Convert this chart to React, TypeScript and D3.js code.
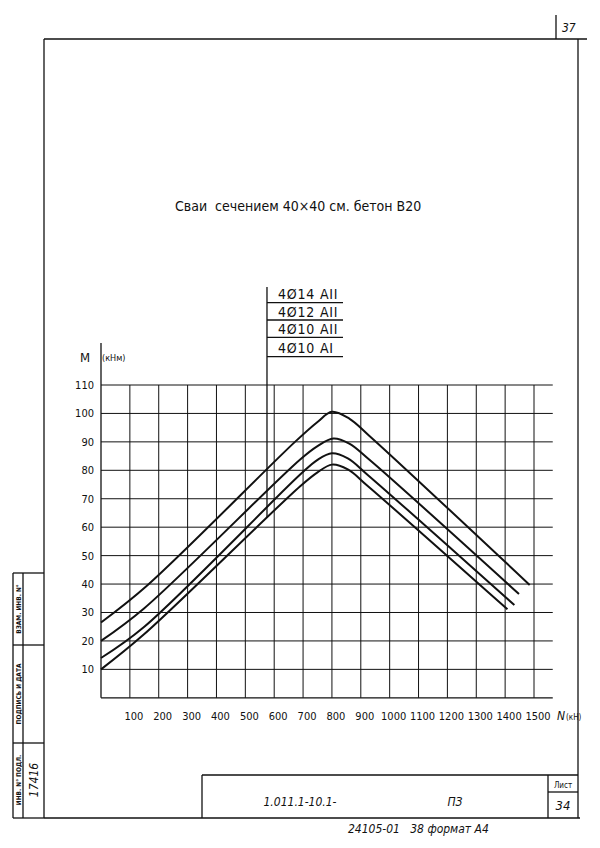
import React from "react";
import * as d3 from "d3";

// ---- data ----
const xTicks = [100, 200, 300, 400, 500, 600, 700, 800, 900, 1000, 1100, 1200, 1300, 1400, 1500];
const yTicks = [10, 20, 30, 40, 50, 60, 70, 80, 90, 100, 110];
const seriesNames = ["4Ø14 АII", "4Ø12 АII", "4Ø10 АII", "4Ø10 АI"];

// key points (N, kN -> M, kNm)
const nTop = [0, 160, 672, 750, 800, 860, 930, 1485];
const mTop = [26.5, 39.5, 90, 97, 100.6, 98.2, 92.1, 39.7];

const n12 = [0, 150, 690, 750, 805, 860, 930, 1448];
const m12 = [20, 31.5, 83.8, 88.5, 91.2, 89.4, 83.7, 36.5];

const n10 = [0, 150, 690, 750, 800, 855, 925, 1432];
const m10 = [14, 25, 78.5, 83.7, 86, 84.2, 78.3, 32.6];

const n10a = [0, 150, 690, 750, 800, 855, 925, 1408];
const m10a = [10, 22.4, 74.4, 79.3, 82, 80.3, 74.4, 31.1];

const gridMaxN = 1565;
const legendLeaderN = 575; // where the legend leader meets the lowest curve

export default function App() {
  const x = d3.scaleLinear().domain([0, 1500]).range([101, 534]);
  const y = d3.scaleLinear().domain([0, 110]).range([697.8, 385]);

  const series = [
    nTop.map((n, i) => [n, mTop[i]]),
    n12.map((n, i) => [n, m12[i]]),
    n10.map((n, i) => [n, m10[i]]),
    n10a.map((n, i) => [n, m10a[i]]),
  ] as [number, number][][];

  const line = d3
    .line<[number, number]>()
    .x((d) => x(d[0]))
    .y((d) => y(d[1]))
    .curve(d3.curveCatmullRom.alpha(0.5));

  const low = series[3];
  const interp = d3.scaleLinear().domain(low.map((d) => d[0])).range(low.map((d) => d[1]));
  const leaderX = x(legendLeaderN);
  const leaderBottom = y(interp(legendLeaderN));

  const hand = "'DejaVu Sans Condensed', 'DejaVu Sans', sans-serif";
  const ink = "#111";

  const legendTop = 287;
  const legendRows = [302.7, 320, 337.3, 356.7];

  return (
    <svg
      width={600}
      height={848}
      style={{ position: "absolute", left: 0, top: 0, background: "#fff" }}
      fontFamily={hand}
    >
      <rect x={0} y={0} width={600} height={848} fill="#fff" />
      {/* sheet frame */}
      <g stroke={ink} strokeWidth={1.3} fill="none">
        <line x1={44} y1={39} x2={587} y2={39} />
        <line x1={44} y1={39} x2={44} y2={818} />
        <line x1={578} y1={39} x2={578} y2={818} />
        <line x1={44} y1={818} x2={580} y2={818} />
        <line x1={556} y1={15} x2={556} y2={39} />
        {/* bottom stamp */}
        <line x1={202} y1={775} x2={578} y2={775} />
        <line x1={202} y1={775} x2={202} y2={818} />
        <line x1={548} y1={775} x2={548} y2={818} />
        <line x1={548} y1={792} x2={578} y2={792} />
        {/* left stamp */}
        <line x1={13} y1={573} x2={44} y2={573} />
        <line x1={13} y1={645} x2={44} y2={645} />
        <line x1={13} y1={743} x2={44} y2={743} />
        <line x1={13} y1={573} x2={13} y2={818} />
        <line x1={23} y1={573} x2={23} y2={818} />
        <line x1={13} y1={818} x2={44} y2={818} />
      </g>
      <text x={562} y={32} fontSize={12} fontStyle="italic" fill={ink}>37</text>

      {/* left stamp texts */}
      <g fontSize={6.5} fill={ink} fontWeight="bold" textAnchor="middle">
        <text transform="translate(20.5,609) rotate(-90)">ВЗАМ. ИНВ. N°</text>
        <text transform="translate(20.5,694) rotate(-90)">ПОДПИСЬ И ДАТА</text>
        <text transform="translate(20.5,780) rotate(-90)">ИНВ. N° ПОДЛ.</text>
      </g>
      <text transform="translate(38,780) rotate(-90)" fontSize={12} fontStyle="italic" textAnchor="middle" fill={ink}>17416</text>

      {/* bottom stamp texts */}
      <text x={300} y={806} fontSize={12} fontStyle="italic" textAnchor="middle" fill={ink}>1.011.1-10.1-</text>
      <text x={455} y={806} fontSize={12} fontStyle="italic" textAnchor="middle" fill={ink}>ПЗ</text>
      <text x={563} y={788} fontSize={8} textAnchor="middle" fill={ink}>Лист</text>
      <text x={563} y={810} fontSize={13} fontStyle="italic" textAnchor="middle" fill={ink}>34</text>
      <text x={348} y={833} fontSize={12} fontStyle="italic" fill={ink} style={{ whiteSpace: "pre" }}>24105-01   38 формат А4</text>

      {/* title */}
      <text x={175} y={211} fontSize={14} fill={ink} style={{ whiteSpace: "pre" }}>Сваи  сечением 40×40 см. бетон В20</text>

      {/* grid */}
      <g stroke={ink} strokeWidth={1}>
        {yTicks.map((t) => (
          <line key={"h" + t} x1={x(0)} x2={x(gridMaxN)} y1={y(t)} y2={y(t)} />
        ))}
        {xTicks.map((t) => (
          <line key={"v" + t} x1={x(t)} x2={x(t)} y1={y(110)} y2={y(0)} />
        ))}
        <line x1={x(0)} x2={x(gridMaxN)} y1={y(0)} y2={y(0)} strokeWidth={1.3} />
        <line x1={x(0)} x2={x(0)} y1={343} y2={y(0)} strokeWidth={1.3} />
      </g>

      {/* axis labels */}
      <g fontSize={11} fill={ink}>
        {yTicks.map((t) => (
          <text key={"yl" + t} x={x(0) - 7} y={y(t) + 4} textAnchor="end">{t}</text>
        ))}
        {xTicks.map((t) => (
          <text key={"xl" + t} x={x(t) + 4} y={720} textAnchor="middle">{t}</text>
        ))}
        <text x={557} y={720} fontSize={12} fontStyle="italic">N</text>
        <text x={566} y={720} fontSize={8}>(кН)</text>
        <text x={80} y={362} fontSize={13}>M</text>
        <text x={102} y={361} fontSize={9}>(кНм)</text>
      </g>

      {/* curves */}
      <g fill="none" stroke={ink} strokeWidth={2}>
        {series.map((s, i) => (
          <path key={"c" + i} d={line(s) || ""} />
        ))}
      </g>

      {/* legend */}
      <g stroke={ink} strokeWidth={1.3}>
        <line x1={leaderX} x2={leaderX} y1={legendTop} y2={leaderBottom} />
        {legendRows.map((r, i) => (
          <line key={"lr" + i} x1={leaderX} x2={343} y1={r} y2={r} />
        ))}
      </g>
      <g fontSize={14} fill={ink} letterSpacing={0.8}>
        {seriesNames.map((s, i) => (
          <text key={"ln" + i} x={278} y={legendRows[i] - 3.5}>{s}</text>
        ))}
      </g>
    </svg>
  );
}
